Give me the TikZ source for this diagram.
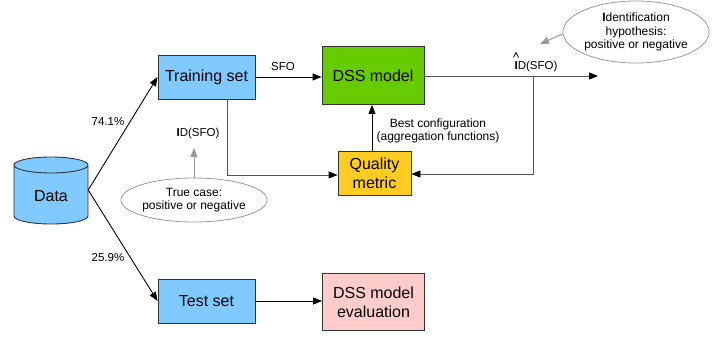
\documentclass[tikz,border=0pt]{standalone}
\usepackage{fontspec}
\setmainfont{Liberation Sans}
\usetikzlibrary{arrows.meta,shapes.geometric,calc}
\definecolor{boxblue}{HTML}{80CAFF}
\definecolor{boxgreen}{HTML}{66CC00}
\definecolor{boxyellow}{HTML}{FFCC22}
\definecolor{boxpink}{HTML}{FFCCCC}
\definecolor{edge}{HTML}{333333}
\definecolor{flow}{HTML}{555555}
\definecolor{note}{HTML}{999999}
\tikzset{
  box/.style={draw=edge, line width=0.9pt, align=center, inner sep=0pt,
    font=\fontsize{16}{19}\selectfont},
  lbl/.style={font=\fontsize{11.5}{13}\selectfont, align=center, inner sep=0pt},
  arr/.style={line width=0.9pt, -{Triangle[length=9pt,width=7pt,color=black]}},
  grayarr/.style={arr, draw=flow},
  notearr/.style={line width=1pt, draw=note, -{Triangle[length=9pt,width=7pt]}, note},
  notebox/.style={ellipse, draw=note, line width=0.8pt, fill=white, inner sep=0pt,
    align=center, font=\fontsize{12}{13.5}\selectfont}
}
\begin{document}
\begin{tikzpicture}[x=1pt,y=-1pt]
\useasboundingbox (0,0) rectangle (720,337);

% data store drawn as a cylinder
\fill[boxblue] (14,165) -- (14,216) arc[start angle=180,end angle=360,x radius=37pt,y radius=8pt]
  -- (88,165) arc[start angle=0,end angle=180,x radius=37pt,y radius=8pt] -- cycle;
\draw[edge, line width=0.9pt] (14,165) -- (14,216) arc[start angle=180,end angle=360,x radius=37pt,y radius=8pt]
  -- (88,165) arc[start angle=0,end angle=180,x radius=37pt,y radius=8pt]
  arc[start angle=180,end angle=360,x radius=37pt,y radius=8pt];
\node[minimum width=74pt, minimum height=67pt, inner sep=0pt] (data) at (51,190) {};
\node[font=\fontsize{16}{19}\selectfont, inner sep=0pt] (datatxt) at (51,196) {Data};

% process boxes
\node[box, fill=boxblue, minimum width=97pt, minimum height=44pt] (train) at (206.5,77) {Training set};
\node[box, fill=boxblue, minimum width=97pt, minimum height=44pt] (test) at (206.5,301) {Test set};
\node[box, fill=boxgreen, minimum width=102pt, minimum height=58pt] (dss) at (373,75.5) {DSS model};
\node[box, fill=boxyellow, minimum width=73pt, minimum height=44pt] (qual) at (374.5,173) {Quality\\metric};
\node[box, fill=boxpink, minimum width=102pt, minimum height=57pt] (eval) at (373.5,302) {DSS model\\evaluation};

% split of the data
\draw[arr] (data.east) -- (train.west);
\draw[arr] (data.east) -- (test.west);
\node[lbl] (p1) at (108,122) {74.1\%};
\node[lbl] (p2) at (108,258) {25.9\%};

% main flow
\draw[arr] (train.east) -- (train.east -| dss.west);
\node[lbl] (sfo) at (283,67) {SFO};
\draw[arr] (test.east) -- (test.east -| eval.west);
\draw[grayarr] ($(train.south)+(20.5,0)$) |- ($(qual.west)+(0,2)$);
\node[lbl] (idtrue) at (198,134) {\textbf{I}D(SFO)};

\coordinate (out) at (598,76);
\coordinate (tap) at (533,76);
\draw[grayarr] (dss.east |- out) -- (out);
\draw[grayarr] (tap) |- ($(qual.east)+(0,1)$);
\node[lbl, anchor=base] (idhat) at (536,69.5) {\textbf{I}D(SFO)};
% estimate hat over the leading I
\coordinate (hatI) at ($(idhat.base west)+(1.6,0)$);
\draw[line width=0.7pt, line join=miter] ($(hatI)+(-2.5,-12)$) -- ($(hatI)+(0,-17)$) -- ($(hatI)+(2.5,-12)$);

\draw[arr] ($(qual.north)+(-2.5,0)$) -- ($(qual.north |- dss.south)+(-2.5,0)$);
\node[lbl, font=\fontsize{12}{13}\selectfont] (best) at (438,131) {Best configuration\\(aggregation functions)};

% explanatory notes
\node[notebox, minimum width=120pt, minimum height=44pt] (truecase) at (194,200) {True case:\\positive or negative};
\draw[notearr] (truecase.north) -- (194,148);
\node[notebox, minimum width=128pt, minimum height=62pt] (hyp) at (636,32) {\textbf{I}dentification\\hypothesis:\\positive or negative};
\coordinate (hyptip) at (540,44);
\draw[notearr] (hyp.west) ++(0,2) -- (hyptip);
\end{tikzpicture}
\end{document}
